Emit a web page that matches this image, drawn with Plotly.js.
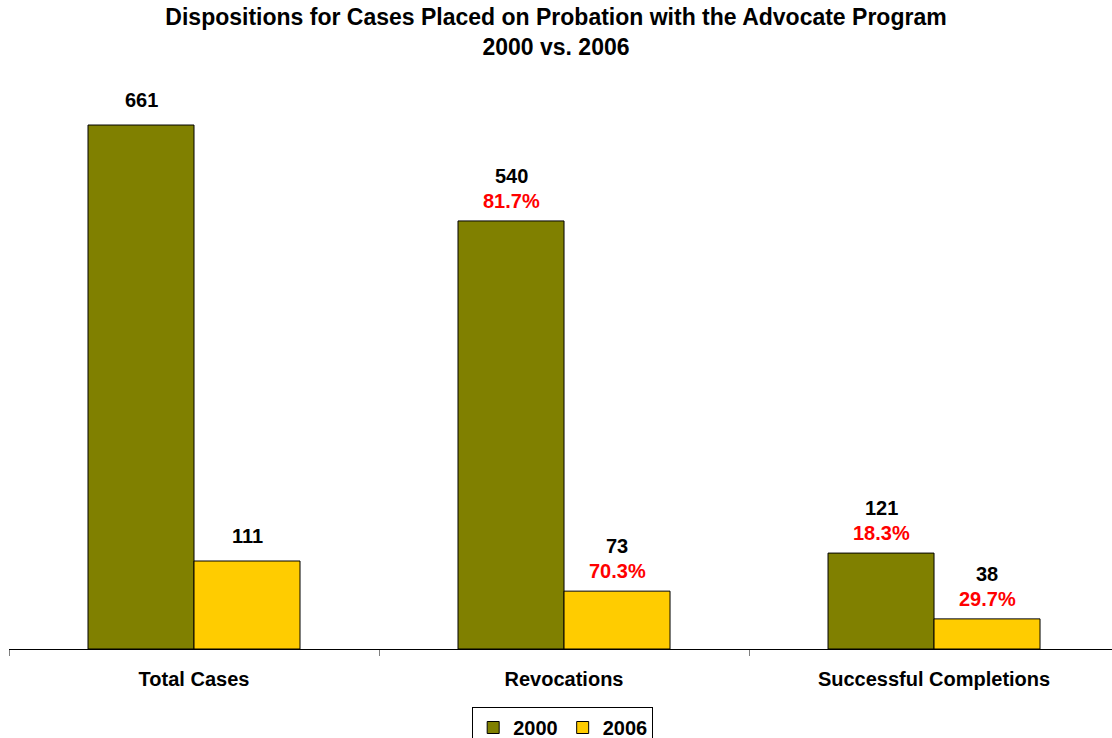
<!DOCTYPE html>
<html>
<head>
<meta charset="utf-8">
<script src="https://cdn.plot.ly/plotly-3.0.1.min.js"></script>
<style>html,body{margin:0;padding:0;background:#fff;}#chart{width:1112px;height:738px;}</style>
</head>
<body>
<div id="chart"></div>
<script>
var categories = ["Total Cases", "Revocations", "Successful Completions"];
var values2000 = [661, 540, 121];
var values2006 = [111, 73, 38];
var pct2000 = [null, "81.7%", "18.3%"];
var pct2006 = [null, "70.3%", "29.7%"];
var seriesNames = ["2000", "2006"];

var FONT = "Liberation Sans, Arial, sans-serif";
var BARGAP = 0.427;
var half = (1 - BARGAP) / 4;

var traces = [
  {type: "bar", name: seriesNames[0], x: categories, y: values2000,
   marker: {color: "#808000", line: {color: "#000", width: 1}}, hoverinfo: "none"},
  {type: "bar", name: seriesNames[1], x: categories, y: values2006,
   marker: {color: "#FFCC00", line: {color: "#000", width: 1}}, hoverinfo: "none"}
];

var annotations = [];
function addLabels(vals, pcts, off) {
  for (var i = 0; i < vals.length; i++) {
    var hasPct = pcts[i] !== null;
    annotations.push({x: i + off, y: vals[i], xref: "x", yref: "y", text: String(vals[i]),
      showarrow: false, yanchor: "middle", yshift: hasPct ? 45 : 25,
      font: {family: FONT, size: 20, color: "#000", weight: "bold"}});
    if (hasPct) {
      annotations.push({x: i + off, y: vals[i], xref: "x", yref: "y", text: pcts[i],
        showarrow: false, yanchor: "middle", yshift: 20,
        font: {family: FONT, size: 20, color: "#FF0000", weight: "bold"}});
    }
  }
}
addLabels(values2000, pct2000, -half);
addLabels(values2006, pct2006, half);

var layout = {
  width: 1112, height: 738,
  margin: {l: 9, r: 0, t: 80, b: 89, autoexpand: false},
  paper_bgcolor: "#fff", plot_bgcolor: "#fff",
  font: {family: FONT, size: 20, color: "#000", weight: "bold"},
  title: {text: "Dispositions for Cases Placed on Probation with the Advocate Program<br>2000 vs. 2006",
    font: {family: FONT, size: 23, color: "#000", weight: "bold"},
    x: 0.5, xanchor: "center", y: 1 - 25 / 738, yanchor: "top", yref: "container"},
  barmode: "group", bargap: BARGAP, bargroupgap: 0,
  showlegend: true,
  legend: {orientation: "h", x: 0.506, xanchor: "center", xref: "container",
    y: 1 - 707 / 738, yanchor: "top", yref: "container",
    bordercolor: "#000", borderwidth: 1, bgcolor: "#fff",
    font: {family: FONT, size: 20, color: "#000", weight: "bold"},
    itemwidth: 30, tracegroupgap: 0},
  xaxis: {type: "category", categoryorder: "array", categoryarray: categories,
    range: [-0.5, 2.481], tickson: "boundaries", ticks: "outside", ticklen: 6,
    tickcolor: "#808080", tickwidth: 1, showline: true, linecolor: "#000", linewidth: 1,
    showgrid: false, zeroline: false, fixedrange: true, ticklabelstandoff: 12,
    tickfont: {family: FONT, size: 20, color: "#000", weight: "bold"}},
  yaxis: {range: [0, 717.8], visible: false, showgrid: false, zeroline: false, fixedrange: true},
  annotations: annotations
};

Plotly.newPlot("chart", traces, layout, {displayModeBar: false, staticPlot: true});
</script>
</body>
</html>
